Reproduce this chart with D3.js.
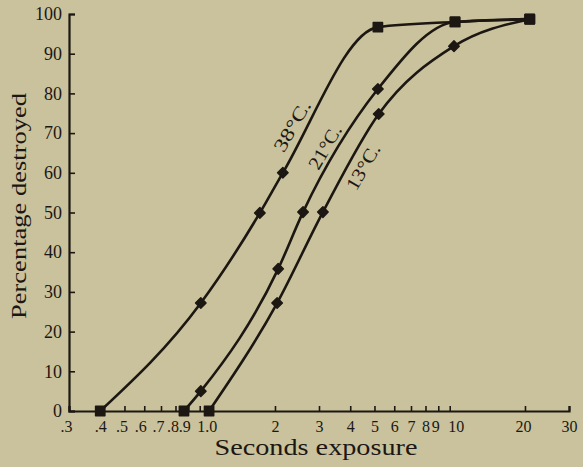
<!DOCTYPE html>
<html>
<head>
<meta charset="utf-8">
<script src="https://cdn.jsdelivr.net/npm/d3@7"></script>
<style>
  html, body { margin: 0; padding: 0; background: #c9c29d; }
  svg { display: block; }
</style>
</head>
<body>
<svg id="chart" width="583" height="467"></svg>
<script>
// ---- data ----
const seriesNames = ["38°C.", "21°C.", "13°C."];
const seconds38 = [0.40, 1.01, 1.74, 2.15, 5.16, 10.5, 20.9];
const percent38 = [0, 27.2, 49.9, 60.0, 96.7, 98.0, 98.7];
const seconds21 = [0.865, 1.01, 2.06, 2.59, 5.16, 10.5, 20.9];
const percent21 = [0, 5.0, 35.8, 50.1, 81.1, 98.0, 98.7];
const seconds13 = [1.09, 2.04, 3.11, 5.2, 10.4, 20.9];
const percent13 = [0, 27.2, 50.1, 74.8, 91.9, 98.7];

const xTickValues = [0.3, 0.4, 0.5, 0.6, 0.7, 0.8, 0.9, 1, 2, 3, 4, 5, 6, 7, 8, 9, 10, 20, 30];
const xTickLabels = [".3", ".4", ".5", ".6", ".7", ".8", ".9", "1.0", "2", "3", "4", "5", "6", "7", "8", "9", "10", "20", "30"];
const yTickValues = [0, 10, 20, 30, 40, 50, 60, 70, 80, 90, 100];
const yTickLabels = ["0", "10", "20", "30", "40", "50", "60", "70", "80", "90", "100"];
const xTitle = "Seconds exposure";
const yTitle = "Percentage destroyed";

// ---- drawing ----
const ink = "#1c1712";
const font = "'Liberation Serif', 'DejaVu Serif', serif";
const svg = d3.select("#chart");

const x = d3.scaleLog().domain([0.3, 30]).range([69, 569]);
const y = d3.scaleLinear().domain([0, 100]).range([411, 14]);

// axes
const xAxis = d3.axisBottom(x)
  .tickValues(xTickValues)
  .tickSize(-5)
  .tickFormat((d, i) => xTickLabels[i]);
const yAxis = d3.axisLeft(y)
  .tickValues(yTickValues)
  .tickSize(-6)
  .tickFormat((d, i) => yTickLabels[i]);

const gx = svg.append("g").attr("transform", `translate(0,${y(0)})`).call(xAxis);
const gy = svg.append("g").attr("transform", `translate(${x(0.3)},0)`).call(yAxis);

[gx, gy].forEach(g => {
  g.select(".domain").attr("stroke", ink).attr("stroke-width", 2.2);
  g.selectAll(".tick line").attr("stroke", ink).attr("stroke-width", 1.6);
  g.selectAll(".tick text").attr("fill", ink).attr("font-family", font);
});
// hand-lettered labels sit slightly off their ticks in the original
const labelNudge = { ".3": -3, ".5": -3, ".6": -4, ".7": -3, ".8": -3, ".9": -4, "1.0": 7, "9": -3, "10": 6, "20": -2 };
gx.selectAll(".tick text")
  .attr("font-size", 16).attr("dy", "0.55em").attr("y", 12)
  .attr("dx", (d, i) => labelNudge[xTickLabels[i]] || 0);
gy.selectAll(".tick text").attr("font-size", 18).attr("x", -7);

// titles
svg.append("text")
  .attr("x", 316).attr("y", 455)
  .attr("text-anchor", "middle")
  .attr("font-family", font).attr("font-size", 23).attr("fill", ink)
  .attr("textLength", 203).attr("lengthAdjust", "spacingAndGlyphs")
  .text(xTitle);

svg.append("text")
  .attr("transform", "translate(26,206) rotate(-90)")
  .attr("text-anchor", "middle")
  .attr("font-family", font).attr("font-size", 22).attr("fill", ink)
  .attr("textLength", 226).attr("lengthAdjust", "spacingAndGlyphs")
  .text(yTitle);

// series
const series = [
  { name: seriesNames[0], xs: seconds38, ys: percent38 },
  { name: seriesNames[1], xs: seconds21, ys: percent21 },
  { name: seriesNames[2], xs: seconds13, ys: percent13 }
].map(s => ({ name: s.name, pts: s.xs.map((v, i) => [v, s.ys[i]]) }));

const line = d3.line()
  .x(d => x(d[0]))
  .y(d => y(d[1]))
  .curve(d3.curveMonotoneX);

svg.append("g").selectAll("path")
  .data(series)
  .join("path")
  .attr("d", s => line(s.pts))
  .attr("fill", "none")
  .attr("stroke", ink)
  .attr("stroke-width", 2.6);

// markers: squares at the ends (0% and near 100%), diamonds elsewhere
const allPts = series.flatMap(s => s.pts);
const isEnd = d => d[1] === 0 || d[1] >= 95;
const sq = d3.symbol().type(d3.symbolSquare).size(88);
const dm = d3.symbol().type(d3.symbolSquare).size(56);
svg.append("g").selectAll("path")
  .data(allPts)
  .join("path")
  .attr("transform", d => `translate(${x(d[0])},${y(d[1])})` + (isEnd(d) ? "" : " rotate(45)"))
  .attr("d", d => isEnd(d) ? sq() : dm())
  .attr("fill", ink)
  .attr("stroke", ink)
  .attr("stroke-width", 1.4)
  .attr("stroke-linejoin", "round");

// curve labels (centres in data units), rotated along the curves
const labelPos = [
  { x: 2.34, y: 71.8, len: 56 },
  { x: 3.17, y: 66.5, len: 48 },
  { x: 4.50, y: 61.5, len: 50 }
];
svg.append("g").selectAll("text")
  .data(series)
  .join("text")
  .attr("transform", (s, i) => `translate(${x(labelPos[i].x)},${y(labelPos[i].y)}) rotate(-60)`)
  .attr("text-anchor", "middle")
  .attr("dominant-baseline", "central")
  .attr("font-family", font).attr("font-size", 19).attr("fill", ink)
  .attr("textLength", (s, i) => labelPos[i].len)
  .attr("lengthAdjust", "spacingAndGlyphs")
  .text(s => s.name);
</script>
</body>
</html>
